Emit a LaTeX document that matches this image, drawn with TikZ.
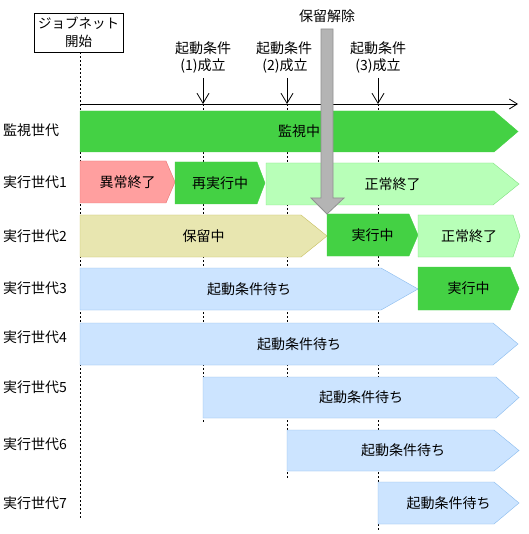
\documentclass[tikz,border=0pt]{standalone}
\usepackage{fontspec}
\setmainfont{Noto Sans CJK JP}
\usetikzlibrary{arrows.meta}
\definecolor{grn}{HTML}{44D144}
\definecolor{redf}{HTML}{FF9F9F}
\definecolor{redd}{HTML}{E87070}
\definecolor{lgrnf}{HTML}{B8FFB8}
\definecolor{lgrnd}{HTML}{80E080}
\definecolor{beigef}{HTML}{E8E6B0}
\definecolor{beiged}{HTML}{C8C060}
\definecolor{bluef}{HTML}{CCE4FF}
\definecolor{blued}{HTML}{88BBEE}
\definecolor{grayf}{HTML}{B4B4B4}
\definecolor{grayd}{HTML}{909090}
\tikzset{
  lbl/.style={font=\fontsize{14}{16}\selectfont, inner sep=0pt},
  rowlbl/.style={lbl, anchor=west},
  greenbar/.style={fill=grn, draw=grn},
  redbar/.style={fill=redf, draw=redd},
  lgreenbar/.style={fill=lgrnf, draw=lgrnd},
  beigebar/.style={fill=beigef, draw=beiged},
  bluebar/.style={fill=bluef, draw=blued},
  guide/.style={draw=black, line width=0.8pt, dash pattern=on 2pt off 2pt},
  axisline/.style={draw=black, line width=0.8pt, -{Straight Barb[length=8pt,width=10pt]}},
  condarrow/.style={draw=black, line width=0.8pt, -{Straight Barb[length=10pt,width=12pt]}},
  startbox/.style={draw=black, line width=0.8pt, fill=white, minimum width=89pt, minimum height=39pt, inner sep=0pt, align=center, font=\fontsize{13.5}{18}\selectfont},
  holdarrow/.style={fill=grayf, draw=grayd, line width=0.8pt}
}
\newcommand{\genbar}[8]{%
  \path[#2] (#3,#6) -- (#4,#6) -- (#5,{(#6+#7)/2}) -- (#4,#7) -- (#3,#7) -- cycle;
  \node[lbl] (#1) at ({(#3+#5)/2},{(#6+#7)/2}) {#8};
}
\begin{document}
\begin{tikzpicture}[x=1pt,y=-1pt]
\useasboundingbox[fill=white] (0,0) rectangle (528,534);

% start box
\node[startbox] (start) at (78.5,32.5) {ジョブネット\\開始};

% guide lines
\coordinate (g0b) at (80,520);
\coordinate (g1t) at (203,104); \coordinate (g1b) at (203,423);
\coordinate (g2t) at (287,104); \coordinate (g2b) at (287,478);
\coordinate (g3t) at (378,104); \coordinate (g3b) at (378,530);
\draw[guide] (start.south -| g0b) -- (g0b);
\draw[guide] (g1t) -- (g1b);
\draw[guide] (g2t) -- (g2b);
\draw[guide] (g3t) -- (g3b);

% time axis
\coordinate (ax0) at (80,104);
\coordinate (ax1) at (518,104);
\draw[axisline] (ax0) -- (ax1);

% condition labels and arrows
\node[lbl] (c1a) at (203,48) {起動条件};
\node[lbl] (c1b) at (203,66) {(1)成立};
\node[lbl] (c2a) at (284,48) {起動条件};
\node[lbl] (c2b) at (285,66) {(2)成立};
\node[lbl] (c3a) at (378,48) {起動条件};
\node[lbl] (c3b) at (378,66) {(3)成立};
\coordinate (a1t) at (203,78); \coordinate (a1b) at (203,104);
\coordinate (a2t) at (287,78); \coordinate (a2b) at (287,104);
\coordinate (a3t) at (378,78); \coordinate (a3b) at (378,104);
\draw[condarrow] (a1t) -- (a1b);
\draw[condarrow] (a2t) -- (a2b);
\draw[condarrow] (a3t) -- (a3b);

% row labels
\node[rowlbl] (r0) at (3,130) {監視世代};
\node[rowlbl] (r1) at (3,182) {実行世代1};
\node[rowlbl] (r2) at (3,236) {実行世代2};
\node[rowlbl] (r3) at (3,288) {実行世代3};
\node[rowlbl] (r4) at (3,337) {実行世代4};
\node[rowlbl] (r5) at (3,387) {実行世代5};
\node[rowlbl] (r6) at (3,444) {実行世代6};
\node[rowlbl] (r7) at (3,503) {実行世代7};

% bars
\genbar{mon}{greenbar}{80}{494}{518}{111}{152}{監視中}
\genbar{g1a}{redbar}{80}{166}{175}{161}{203}{異常終了}
\genbar{g1b}{greenbar}{175}{257}{265}{162}{204}{再実行中}
\genbar{g1c}{lgreenbar}{266}{493}{519}{163}{205}{正常終了}
\genbar{g2a}{beigebar}{80}{301}{327}{215}{257}{保留中}
\genbar{g2b}{greenbar}{327}{409}{418}{214}{256}{実行中}
\genbar{g2c}{lgreenbar}{418}{513}{520}{215}{257}{正常終了}
\genbar{g3a}{bluebar}{80}{381}{418}{268}{310}{起動条件待ち}
\genbar{g3b}{greenbar}{418}{510}{519}{267}{310}{実行中}
\genbar{g4}{bluebar}{80}{493}{518}{323}{365}{起動条件待ち}
\genbar{g5}{bluebar}{203}{496}{519}{377}{418}{起動条件待ち}
\genbar{g6}{bluebar}{287}{494}{519}{430}{471}{起動条件待ち}
\genbar{g7}{bluebar}{378}{494}{519}{482}{524}{起動条件待ち}

% hold release arrow
\node[lbl] (hold) at (327,16) {保留解除};
\path[holdarrow] (321,29) -- (333,29) -- (333,198) -- (344,198) -- (327,214) -- (311,198) -- (321,198) -- cycle;
\end{tikzpicture}
\end{document}
